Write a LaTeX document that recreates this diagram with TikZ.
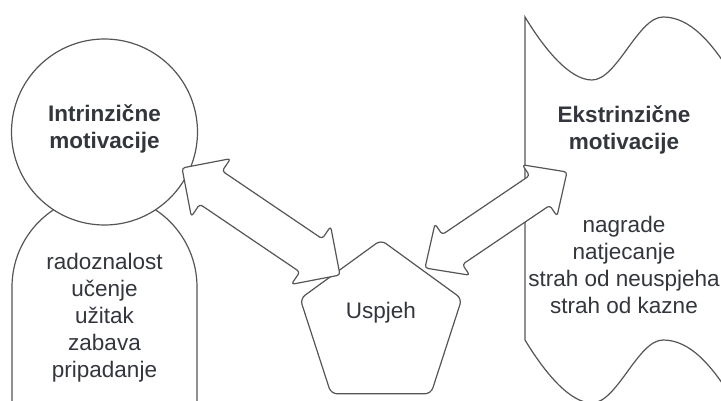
\documentclass[tikz,border=0pt]{standalone}
\usepackage{fontspec}
\setmainfont{Liberation Sans}
\usetikzlibrary{calc,shapes.geometric}
\definecolor{ln}{RGB}{85,85,85}
\definecolor{tx}{RGB}{51,54,60}
\tikzset{
  shapeline/.style={draw=ln, line width=1.2pt, fill=white},
  titletext/.style={font=\fontsize{22.5}{27}\selectfont\bfseries, text=tx, align=center, inner sep=0pt},
  bodytext/.style={font=\fontsize{22.5}{27}\selectfont, text=tx, align=center, inner sep=0pt},
  blockarrow/.style={draw=ln, line width=1.2pt, fill=white, rounded corners=3pt, line join=round},
}
\newcommand\dblarrow[5]{%
  \draw[blockarrow] (#1)
   -- ($(#1)!#3!(#2)!#4!90:(#2)$)
   -- ($(#1)!#3!(#2)!#5!90:(#2)$)
   -- ($(#2)!#3!(#1)!#5!-90:(#1)$)
   -- ($(#2)!#3!(#1)!#4!-90:(#1)$)
   -- (#2)
   -- ($(#2)!#3!(#1)!#4!90:(#1)$)
   -- ($(#2)!#3!(#1)!#5!90:(#1)$)
   -- ($(#1)!#3!(#2)!#5!-90:(#2)$)
   -- ($(#1)!#3!(#2)!#4!-90:(#2)$)
   -- cycle;}
\begin{document}
\begin{tikzpicture}[x=1pt,y=-1pt]
\useasboundingbox (0,0) rectangle (721,401);
\clip (0,0) rectangle (721,401);
% lower left rounded shape
\draw[shapeline] (12,410) -- (12,287) arc[start angle=180, end angle=360, radius=92.5] -- (197,410);
% circle
\node[circle, shapeline, minimum size=186pt, inner sep=0pt, outer sep=0pt] (intr) at (104.5,132) {};
\node[titletext] (intrtit) at (104.5,128.5) {Intrinzične\\motivacije};
\node[bodytext] (intrbody) at (104.5,318) {radoznalost\\učenje\\užitak\\zabava\\pripadanje};
% pentagon
\node[regular polygon, regular polygon sides=5, minimum size=170pt, inner sep=0pt, outer sep=0pt, shapeline, rounded corners=6pt] (usp) at (381,325) {};
\node[bodytext] (usptxt) at (381,313) {Uspjeh};
% right wavy shape
\draw[shapeline] (525,17) -- (525,340)
  .. controls (545,373) and (570,403) .. (592,403)
  .. controls (617,403) and (638,340) .. (663,340)
  .. controls (690,340) and (712,365) .. (735,403)
  -- (735,80)
  .. controls (712,42) and (690,17) .. (663,17)
  .. controls (638,17) and (617,80) .. (592,80)
  .. controls (570,80) and (545,50) .. (525,17) -- cycle;
\node[titletext] (ekstit) at (624,130) {Ekstrinzične\\motivacije};
\node[bodytext] (eksbody) at (624,265) {nagrade\\natjecanje\\strah od neuspjeha\\strah od kazne};
% arrows
\coordinate (la) at (182,168);
\coordinate (lb) at (340,275);
\coordinate (ra) at (425,268);
\coordinate (rb) at (567,172);
\dblarrow{la}{lb}{35pt}{35pt}{20pt}
\dblarrow{ra}{rb}{33pt}{31pt}{18pt}
\end{tikzpicture}
\end{document}
